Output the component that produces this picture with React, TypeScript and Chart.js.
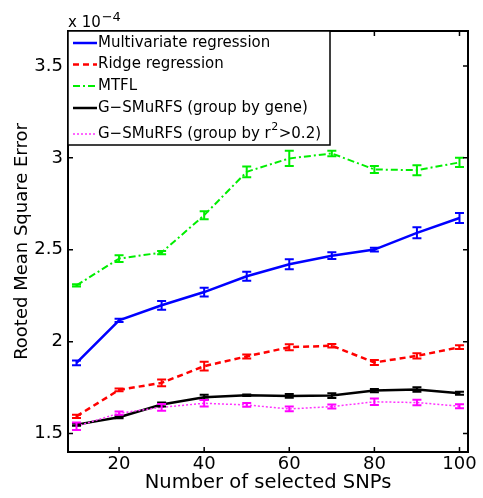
import React, { useEffect, useRef } from "react";
import { Chart, registerables } from "chart.js";

Chart.register(...registerables);

// Data (values in units of 1e-4)
const snps = [10, 20, 30, 40, 50, 60, 70, 80, 90, 100];
const multivariate = [1.885, 2.116, 2.198, 2.27, 2.356, 2.421, 2.468, 2.501, 2.592, 2.673];
const multivariateErr = [0.013, 0.009, 0.024, 0.024, 0.025, 0.027, 0.018, 0.01, 0.03, 0.027];
const ridge = [1.594, 1.738, 1.776, 1.867, 1.92, 1.97, 1.978, 1.887, 1.923, 1.97];
const ridgeErr = [0.009, 0.007, 0.018, 0.024, 0.011, 0.016, 0.01, 0.014, 0.014, 0.01];
const mtfl = [2.306, 2.452, 2.485, 2.688, 2.924, 2.997, 3.024, 2.937, 2.933, 2.975];
const mtflErr = [0.006, 0.018, 0.009, 0.022, 0.029, 0.042, 0.015, 0.019, 0.027, 0.025];
const gsmurfsGene = [1.549, 1.589, 1.658, 1.698, 1.709, 1.705, 1.707, 1.734, 1.74, 1.72];
const gsmurfsGeneErr = [0.006, 0.006, 0.011, 0.013, 0.004, 0.01, 0.013, 0.009, 0.012, 0.008];
const gsmurfsR2 = [1.54, 1.611, 1.643, 1.665, 1.656, 1.634, 1.647, 1.673, 1.669, 1.649];
const gsmurfsR2Err = [0.02, 0.009, 0.018, 0.018, 0.01, 0.013, 0.011, 0.018, 0.015, 0.011];

const xTicks = [20, 40, 60, 80, 100];
const yTicks = [1.5, 2, 2.5, 3, 3.5];

const seriesNames = [
  "Multivariate regression",
  "Ridge regression",
  "MTFL",
  "G\u2212SMuRFS (group by gene)",
  "G\u2212SMuRFS (group by r",
];

const FONT = "'DejaVu Sans', sans-serif";

const styles = [
  { color: "#0000ff", dash: [] as number[], width: 2.5 },
  { color: "#ff0000", dash: [6, 4], width: 2.5 },
  { color: "#00ee00", dash: [7, 3, 2, 3], width: 2 },
  { color: "#000000", dash: [] as number[], width: 2.5 },
  { color: "#ff33ff", dash: [2, 2], width: 1.5 },
];

const series = [multivariate, ridge, mtfl, gsmurfsGene, gsmurfsR2];
const errs = [multivariateErr, ridgeErr, mtflErr, gsmurfsGeneErr, gsmurfsR2Err];

const overlayPlugin = {
  id: "overlay",
  afterDatasetsDraw(chart: any) {
    const { ctx, chartArea } = chart;
    const xs = chart.scales.x;
    const ys = chart.scales.y;
    ctx.save();
    ctx.beginPath();
    ctx.rect(chartArea.left, chartArea.top, chartArea.right - chartArea.left, chartArea.bottom - chartArea.top);
    ctx.clip();
    series.forEach((vals, di) => {
      ctx.strokeStyle = di === 4 ? "#ff00ff" : styles[di].color;
      ctx.lineWidth = 2;
      ctx.setLineDash([]);
      vals.forEach((v, i) => {
        const e = errs[di][i];
        const x = xs.getPixelForValue(snps[i]);
        const y1 = ys.getPixelForValue(v + e);
        const y2 = ys.getPixelForValue(v - e);
        const cw = 4.5;
        ctx.beginPath();
        ctx.moveTo(x, y1);
        ctx.lineTo(x, y2);
        ctx.moveTo(x - cw, y1);
        ctx.lineTo(x + cw, y1);
        ctx.moveTo(x - cw, y2);
        ctx.lineTo(x + cw, y2);
        ctx.stroke();
      });
    });
    ctx.restore();
  },
  afterDraw(chart: any) {
    const { ctx, chartArea } = chart;
    const { left, right, top, bottom } = chartArea;
    const xs = chart.scales.x;
    const ys = chart.scales.y;
    ctx.save();
    // axes box
    ctx.strokeStyle = "#000";
    ctx.lineWidth = 2;
    ctx.setLineDash([]);
    ctx.strokeRect(left, top, right - left, bottom - top);
    // inside ticks
    const tl = 5;
    ctx.beginPath();
    xTicks.forEach((t) => {
      const x = xs.getPixelForValue(t);
      ctx.moveTo(x, bottom);
      ctx.lineTo(x, bottom - tl);
      ctx.moveTo(x, top);
      ctx.lineTo(x, top + tl);
    });
    yTicks.forEach((t) => {
      const y = ys.getPixelForValue(t);
      ctx.moveTo(left, y);
      ctx.lineTo(left + tl, y);
      ctx.moveTo(right, y);
      ctx.lineTo(right - tl, y);
    });
    ctx.lineWidth = 1.5;
    ctx.stroke();

    // exponent label
    ctx.fillStyle = "#000";
    ctx.textBaseline = "alphabetic";
    ctx.textAlign = "left";
    ctx.font = `15px ${FONT}`;
    ctx.fillText("x 10", left, top - 4);
    const w10 = ctx.measureText("x 10").width;
    ctx.font = `13px ${FONT}`;
    ctx.fillText("\u22124", left + w10 + 1, top - 10);

    // legend
    const lx = left, ly = top, lw = 262, lh = 114;
    ctx.fillStyle = "#fff";
    ctx.fillRect(lx, ly, lw, lh);
    ctx.strokeStyle = "#000";
    ctx.lineWidth = 1.5;
    ctx.strokeRect(lx, ly, lw, lh);
    const rowY = [43, 64.5, 86, 108, 134].map((v) => v - 31 + top);
    seriesNames.forEach((name, i) => {
      const y = rowY[i];
      ctx.strokeStyle = styles[i].color;
      ctx.lineWidth = styles[i].width;
      ctx.setLineDash(styles[i].dash);
      ctx.beginPath();
      ctx.moveTo(lx + 5, y);
      ctx.lineTo(lx + 29, y);
      ctx.stroke();
      ctx.setLineDash([]);
      ctx.fillStyle = "#000";
      ctx.font = `15px ${FONT}`;
      ctx.textBaseline = "middle";
      ctx.fillText(name, lx + 30, y);
      if (i === 4) {
        const w = ctx.measureText(name).width;
        ctx.font = `11px ${FONT}`;
        ctx.fillText("2", lx + 30 + w + 0.5, y - 7);
        const w2 = ctx.measureText("2").width;
        ctx.font = `15px ${FONT}`;
        ctx.fillText(">0.2)", lx + 30 + w + w2 + 1, y);
      }
    });
    ctx.restore();
  },
};

export default function App() {
  const ref = useRef<HTMLCanvasElement>(null);
  useEffect(() => {
    document.body.style.margin = "0";
    const canvas = ref.current!;
    const chart = new Chart(canvas, {
      type: "line",
      data: {
        datasets: series.map((vals, i) => ({
          label: seriesNames[i],
          data: vals.map((v, j) => ({ x: snps[j], y: v })) as any,
          borderColor: styles[i].color,
          borderWidth: styles[i].width,
          borderDash: styles[i].dash,
          pointRadius: 0,
          fill: false,
          tension: 0,
          order: 4 - i,
        })),
      },
      options: {
        responsive: false,
        animation: false,
        devicePixelRatio: 1,
        parsing: false as any,
        layout: { padding: { top: 31, right: 15, left: 0, bottom: 0 } },
        plugins: { legend: { display: false }, tooltip: { enabled: false } },
        scales: {
          x: {
            type: "linear",
            min: 8,
            max: 102,
            afterFit: (s: any) => {
              s.height = 46;
            },
            afterBuildTicks: (s: any) => {
              s.ticks = xTicks.map((v) => ({ value: v }));
            },
            grid: { display: false, drawTicks: false },
            border: { display: false },
            ticks: {
              color: "#000",
              font: { family: FONT, size: 18 },
              padding: 2,
              maxRotation: 0,
              autoSkip: false,
            },
            title: {
              display: true,
              text: "Number of selected SNPs",
              color: "#000",
              font: { family: FONT, size: 19.5 },
              padding: { top: 0, bottom: 3 },
            },
          },
          y: {
            type: "linear",
            min: 1.4,
            max: 3.69,
            afterFit: (s: any) => {
              s.width = 68;
            },
            afterBuildTicks: (s: any) => {
              s.ticks = yTicks.map((v) => ({ value: v }));
            },
            grid: { display: false, drawTicks: false },
            border: { display: false },
            ticks: {
              color: "#000",
              font: { family: FONT, size: 18 },
              padding: 5,
              autoSkip: false,
              callback: (v: any) => String(v),
            },
            title: {
              display: true,
              text: "Rooted Mean Square Error",
              color: "#000",
              font: { family: FONT, size: 18 },
              padding: { top: 12, bottom: 0 },
            },
          },
        },
      },
      plugins: [overlayPlugin],
    });
    return () => chart.destroy();
  }, []);
  return (
    <div style={{ width: 483, height: 498 }}>
      <canvas ref={ref} width={483} height={498} style={{ display: "block" }} />
    </div>
  );
}
